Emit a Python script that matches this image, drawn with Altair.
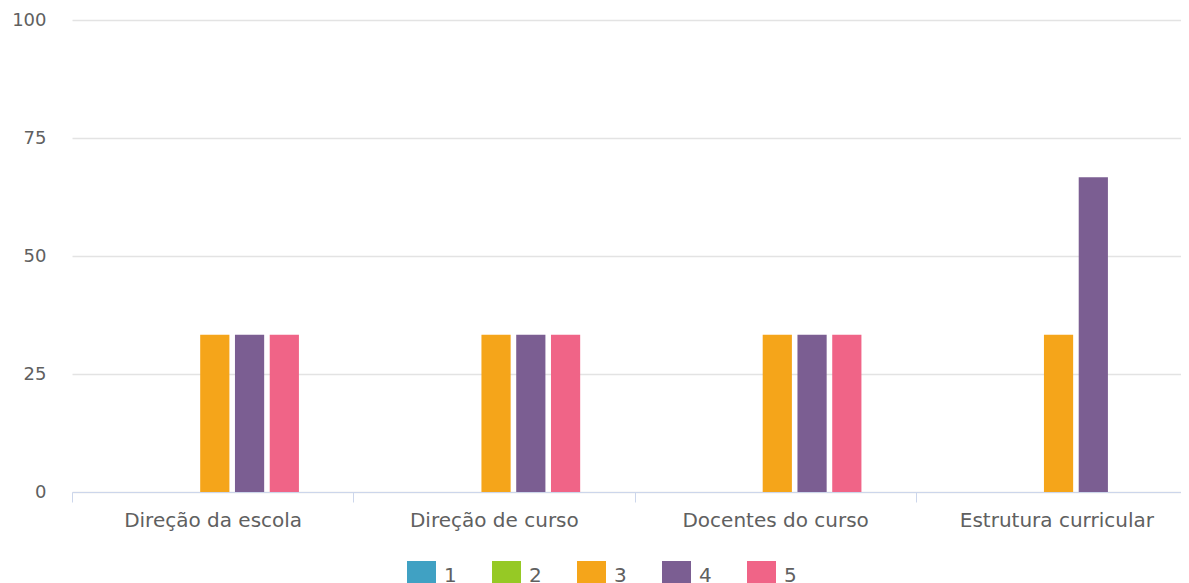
import altair as alt
import pandas as pd

categories = ["Direção da escola", "Direção de curso", "Docentes do curso", "Estrutura curricular"]
series = ["1", "2", "3", "4", "5"]
values = {
    "Direção da escola":    [0, 0, 33.33, 33.33, 33.33],
    "Direção de curso":     [0, 0, 33.33, 33.33, 33.33],
    "Docentes do curso":    [0, 0, 33.33, 33.33, 33.33],
    "Estrutura curricular": [0, 0, 33.33, 66.67, 0],
}
colors = ["#40a1c3", "#96c925", "#f5a51a", "#7b5e92", "#f06487"]
y_ticks = [0, 25, 50, 75, 100]

rows = []
for c in categories:
    for s, v in zip(series, values[c]):
        rows.append({"cat": c, "serie": s, "value": v})
df = pd.DataFrame(rows)

FONT = "DejaVu Sans"
TEXT = "#606060"
offset_domain = ["_l"] + series + ["_r"]

chart = alt.Chart(df).mark_bar().encode(
    x=alt.X("cat:N", sort=categories, title=None,
            scale=alt.Scale(paddingInner=0, paddingOuter=0, range=[0, 1125]),
            axis=alt.Axis(labelAngle=0, tickBand="extent", tickSize=10, labelPadding=8,
                          domainColor="#ccd6eb", tickColor="#ccd6eb", labelColor=TEXT,
                          labelFontSize=20, labelFont=FONT, labelLimit=400, grid=False)),
    xOffset=alt.XOffset("serie:N",
                        scale=alt.Scale(domain=offset_domain, paddingInner=0.16,
                                        paddingOuter=0.625, align=0.55)),
    y=alt.Y("value:Q", title=None,
            scale=alt.Scale(domain=[0, 100], nice=False),
            axis=alt.Axis(values=y_ticks, domain=False, ticks=False, labelPadding=26,
                          gridColor="#e3e3e3", gridWidth=1.5, labelColor=TEXT,
                          labelFontSize=18, labelFont=FONT)),
    color=alt.Color("serie:N", sort=series,
                    scale=alt.Scale(domain=series, range=colors),
                    legend=alt.Legend(title=None, orient="none", direction="horizontal",
                                      legendX=335, legendY=541,
                                      symbolType="square", symbolSize=841,
                                      symbolStrokeWidth=0, symbolOpacity=1,
                                      labelFontSize=20, labelFont=FONT, labelColor=TEXT,
                                      labelOffset=8, columnPadding=35)),
).properties(
    width=1109, height=472,
    autosize=alt.AutoSizeParams(type="none"),
    padding={"left": 64, "top": 12, "right": 0, "bottom": 91},
).configure_view(stroke=None)

chart.save("out.html", embed_options={"renderer": "svg", "actions": False})
